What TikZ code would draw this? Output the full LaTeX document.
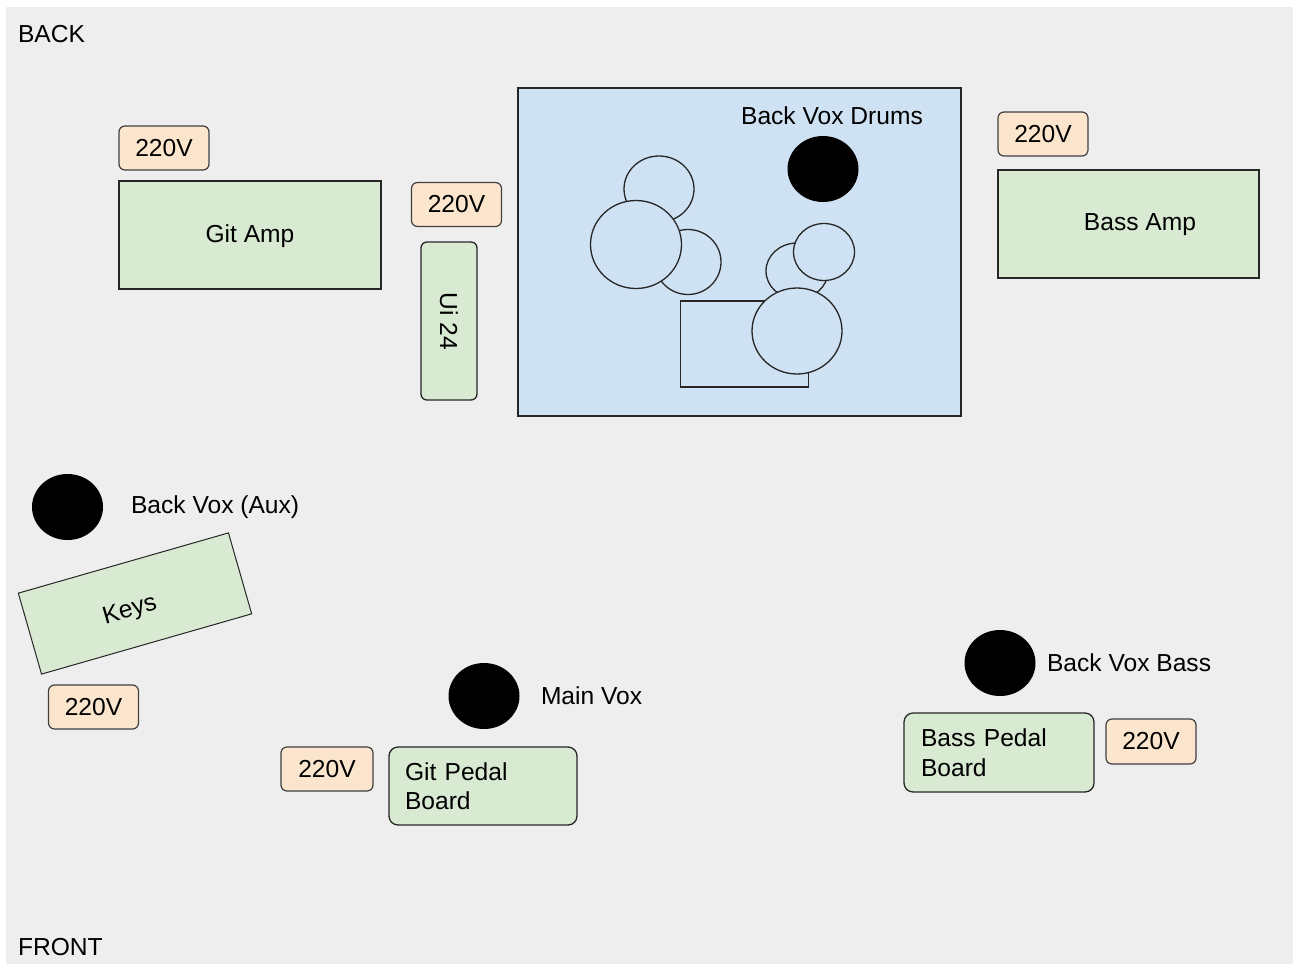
\documentclass[tikz,border=0pt]{standalone}
\usepackage{fontspec}
\setmainfont{Liberation Sans}
\usetikzlibrary{shapes.geometric}
\definecolor{stagebg}{HTML}{EEEEEE}
\definecolor{powercol}{HTML}{FCE5CD}
\definecolor{gearcol}{HTML}{D9EAD3}
\definecolor{drumcol}{HTML}{CFE2F3}
\begin{document}
\begin{tikzpicture}[
    x=1pt, y=-1pt,
    every node/.style={font=\fontsize{24.6}{29.5}\selectfont, outer sep=0pt},
    power/.style={rectangle, draw=black!75, line width=1.2pt, fill=powercol, rounded corners=6pt, minimum width=90pt, minimum height=44pt},
    gear/.style={rectangle, draw=black!85, line width=1.3pt, fill=gearcol},
    pedal/.style={gear, rounded corners=9pt, inner xsep=16pt, align=left},
    mic/.style={ellipse, fill=black, inner sep=0pt, minimum width=71pt, minimum height=66pt},
    drum/.style={ellipse, draw=black!85, line width=1.3pt, fill=drumcol, inner sep=0pt},
    lbl/.style={anchor=west, inner sep=0pt}
]

\useasboundingbox (0,0) rectangle (1293,964);
\fill[stagebg] (6,7) rectangle (1293,964);

% Stage sides
\node[lbl] (back) at (18,34) {BACK};
\node[lbl] (front) at (18,947) {FRONT};

% Drum riser
\node[gear, fill=drumcol, minimum width=443pt, minimum height=328pt] (riser) at (739.5,252) {};
\node (drumvoxlabel) at (832,116) {Back Vox Drums};
\node[mic] (drumvox) at (823,169) {};
\node[drum, minimum width=70pt, minimum height=66pt] (tom1) at (659,189) {};
\node[drum, minimum width=66pt, minimum height=65pt] (tom2) at (688,262) {};
\node[drum, minimum width=91pt, minimum height=88pt] (crash) at (636,244.5) {};
\node[gear, fill=drumcol, minimum width=127.6pt, minimum height=86pt] (kit) at (744.5,344) {};
\node[drum, minimum width=62pt, minimum height=56pt] (snare) at (797,271) {};
\node[drum, minimum width=61pt, minimum height=57pt] (hihat) at (824,252) {};
\node[drum, minimum width=90pt, minimum height=86pt] (ride) at (797,331) {};

% Amps
\node[power] (gitpower) at (164,148) {220V};
\node[gear, minimum width=262pt, minimum height=108pt] (gitamp) at (250,235) {};
\node (gitamplabel) at (250,236) {Git Amp};
\node[power] (uipower) at (456.5,204.5) {220V};
\node[gear, rounded corners=6pt, rotate=-90, minimum width=158pt, minimum height=56pt] (ui) at (449,321) {Ui 24};
\node[power] (basspower) at (1043,134) {220V};
\node[gear, minimum width=261pt, minimum height=108pt] (bassamp) at (1128.5,224) {};
\node (bassamplabel) at (1140,225) {Bass Amp};

% Keys
\node[mic] (auxvox) at (67.5,507) {};
\node[lbl] (auxvoxlabel) at (131,507) {Back Vox (Aux)};
\node[gear, rotate=16, line width=1pt, minimum width=218.6pt, minimum height=84.2pt] (keys) at (135,603.5) {};
\node[rotate=16] (keyslabel) at (130,611) {Keys};
\node[power] (keyspower) at (93.5,707) {220V};

% Front line
\node[mic] (mainvox) at (484,696) {};
\node[lbl] (mainvoxlabel) at (541,696) {Main Vox};
\node[power, minimum width=92pt] (pedalpower) at (327,769) {220V};
\node[pedal, text width=156pt, minimum height=78pt] (gitpedal) at (483,786) {Git Pedal\\Board};
\node[mic] (bassvox) at (1000,663) {};
\node[lbl] (bassvoxlabel) at (1047,663) {Back Vox Bass};
\node[pedal, inner xsep=17pt, text width=156pt, minimum height=79pt] (basspedal) at (999,752.5) {Bass Pedal\\Board};
\node[power, minimum height=45pt] (basspedalpower) at (1151,741.5) {220V};

\end{tikzpicture}
\end{document}
